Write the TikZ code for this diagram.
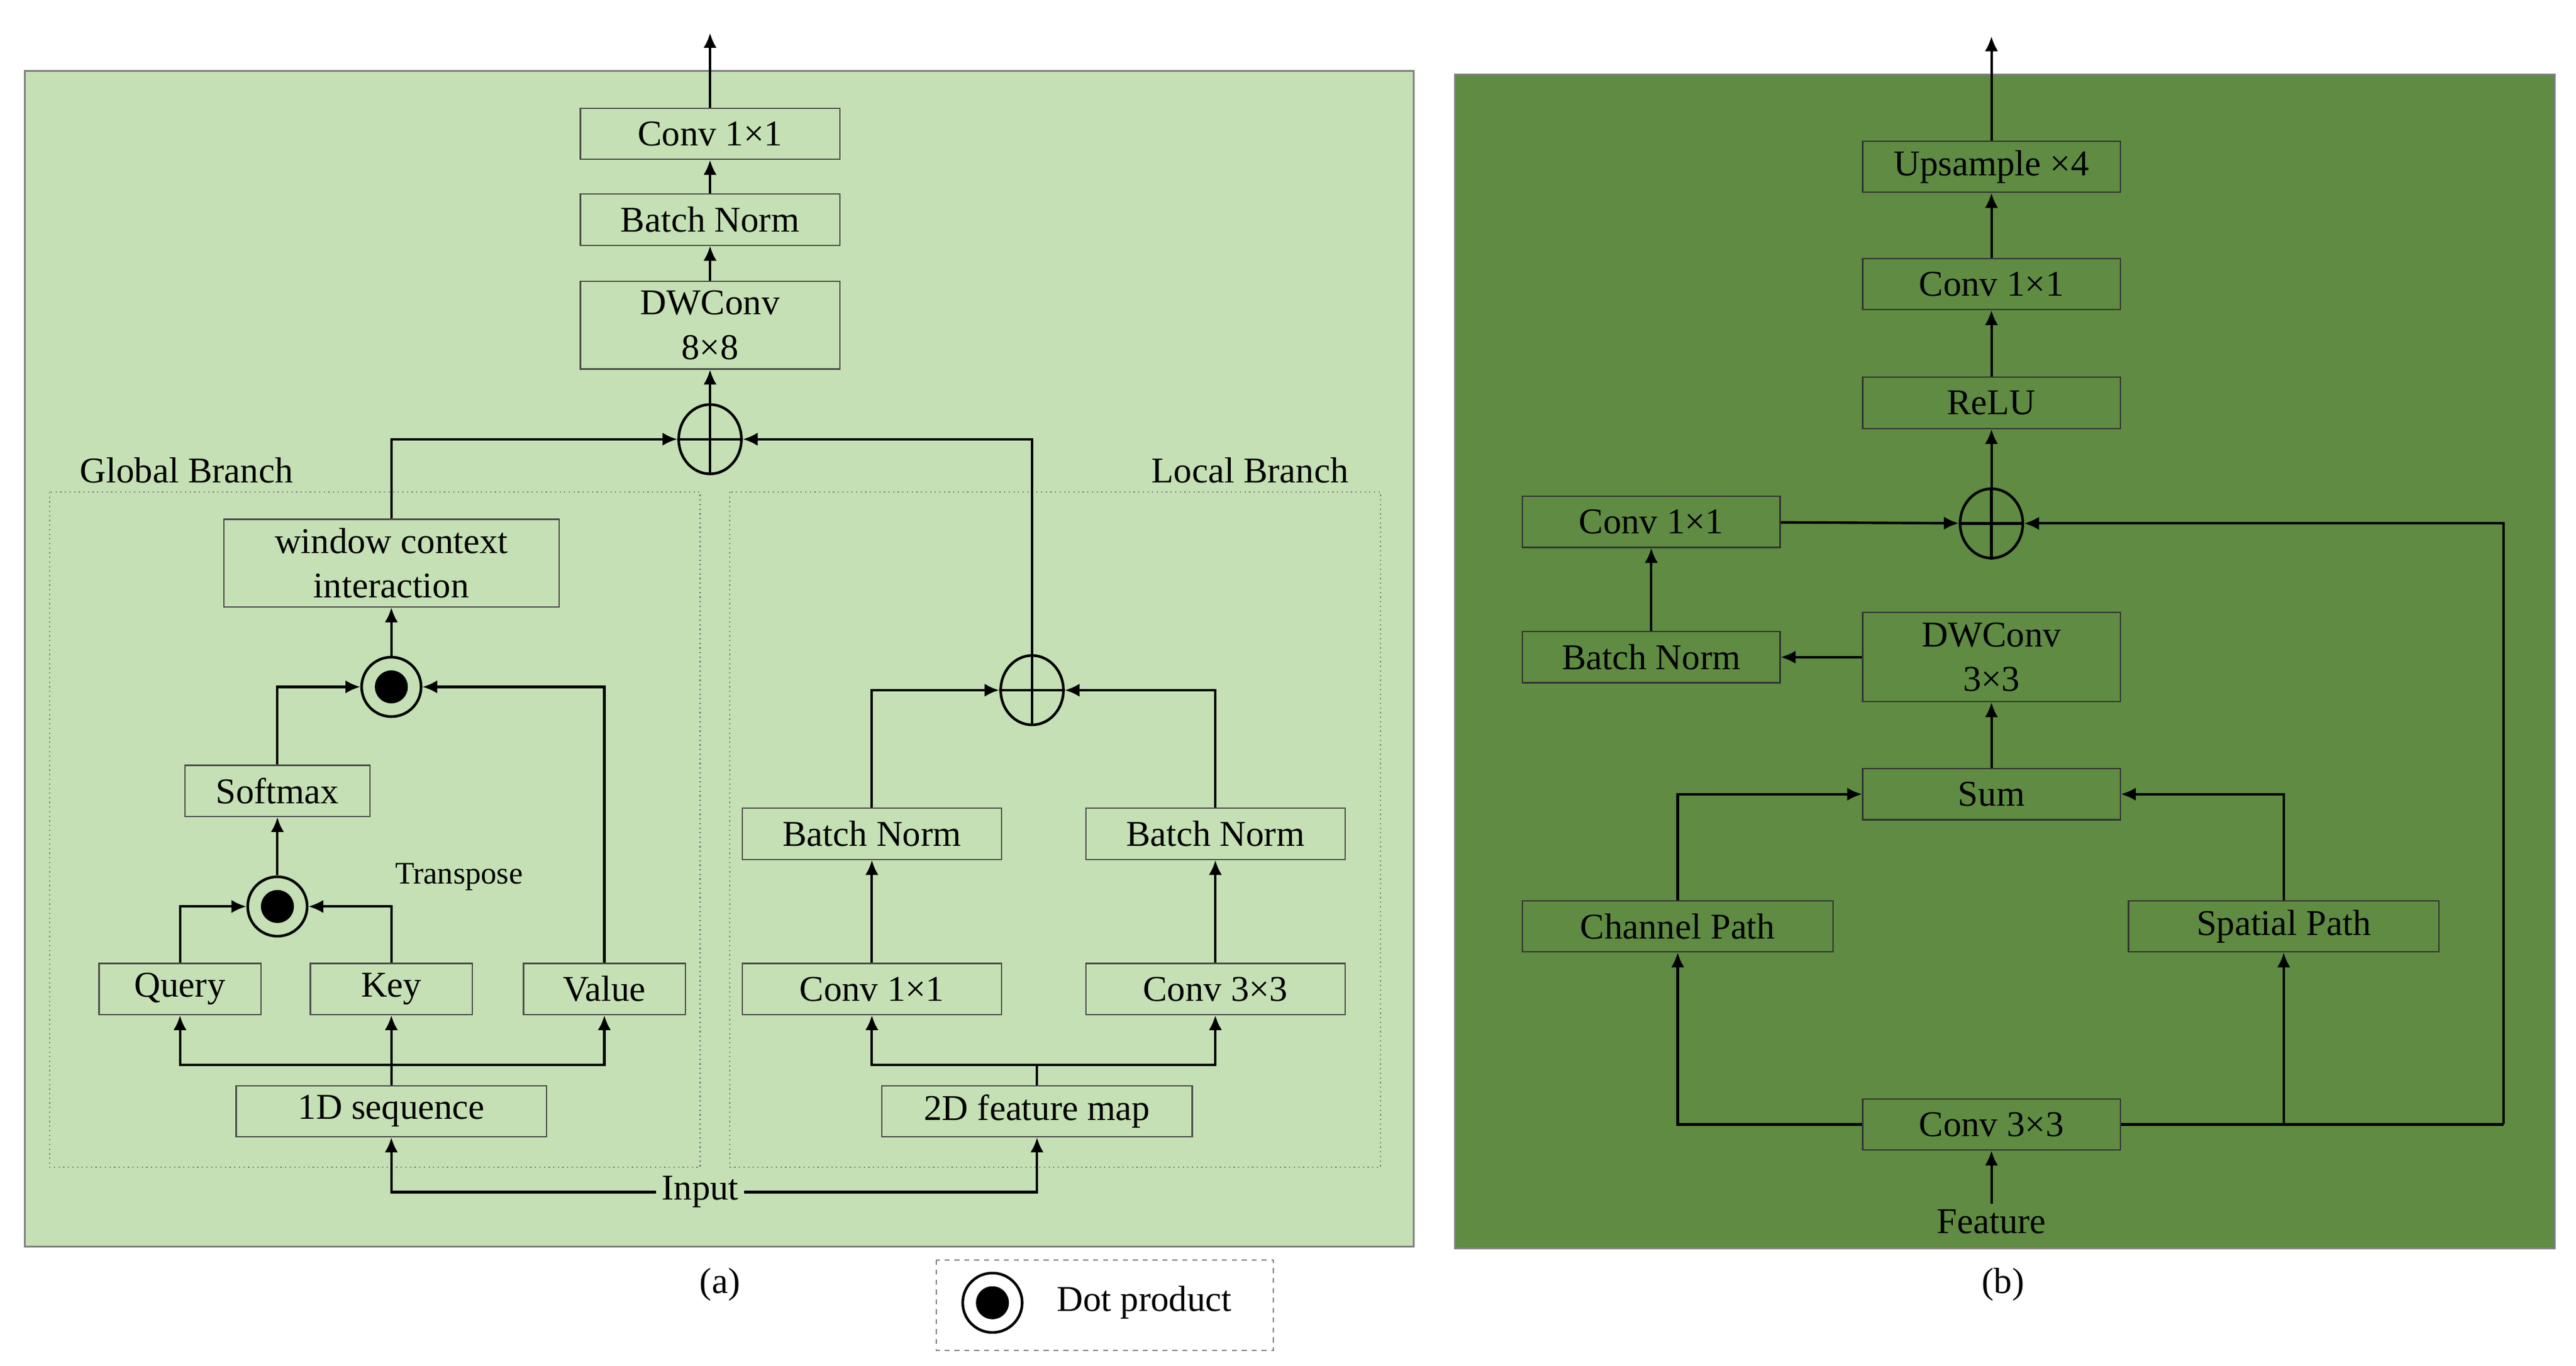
\documentclass[tikz,border=0pt]{standalone}
\usepackage{fontspec}
\setmainfont{Liberation Serif}
\usetikzlibrary{arrows.meta,shapes.geometric}
\definecolor{lg}{HTML}{C5E0B4}
\definecolor{dg}{HTML}{5F8B42}
\begin{document}
\begin{tikzpicture}[x=1pt,y=-1pt,
  every node/.style={font=\fontsize{22}{27}\selectfont},
  box/.style={draw=black!70,line width=0.8pt,minimum height=31pt,inner sep=0pt,align=center},
  plus/.style={ellipse,draw,line width=1.6pt,minimum width=38pt,minimum height=42pt,inner sep=0pt},
  dotp/.style={circle,draw,line width=1.6pt,minimum size=36pt,inner sep=0pt},
  ar/.style={line width=1.5pt,-{Latex[length=9pt,width=8pt]}},
  ln/.style={line width=1.5pt}]
\useasboundingbox (0,0) rectangle (1560,827);
\fill[white] (0,0) rectangle (1560,827);
% panels
\draw[fill=lg,draw=gray,line width=1pt] (15,43) rectangle (856,755);
\draw[fill=dg,draw=gray,line width=1pt] (881,45) rectangle (1547,756);
\draw[gray,dotted,line width=0.8pt] (30,298) rectangle (424,707);
\draw[gray,dotted,line width=0.8pt] (442,298) rectangle (836,707);
\node (gb) at (113,285) {Global Branch};
\node (lb) at (757,285) {Local Branch};
% left top
\node[box,minimum width=157pt] (c1) at (430,81) {Conv 1×1};
\node[box,minimum width=157pt] (bn) at (430,133) {Batch Norm};
\node[box,minimum width=157pt,minimum height=53pt] (dw) at (430,197) {DWConv\\8×8};
\node[plus] (p1) at (430,266) {};
\draw[line width=1.6pt] (p1.north)--(p1.south) (p1.west)--(p1.east);
\coordinate (top1) at (430,20);
\draw[ar] (c1)--(top1);
\draw[ar] (bn)--(c1);
\draw[ar] (dw)--(bn);
\draw[ar] (p1)--(dw);
% global
\node[box,minimum width=203pt,minimum height=53pt] (wc) at (237,341) {window context\\interaction};
\node[dotp] (d1) at (237,416) {};
\fill (d1) circle (10pt);
\node[box,minimum width=112pt] (sm) at (168,479) {Softmax};
\node[dotp] (d2) at (168,549) {};
\fill (d2) circle (10pt);
\node (tr) at (278,531) {\fontsize{19}{22}\selectfont Transpose};
\node[box,minimum width=98pt] (q) at (109,599) {Query};
\node[box,minimum width=98pt] (k) at (237,599) {Key};
\node[box,minimum width=98pt] (v) at (366,599) {Value};
\node[box,minimum width=188pt] (s1) at (237,673) {1D sequence};
\node (in) at (424,722) {Input};
\node[box,minimum width=188pt] (s2) at (628,673) {2D feature map};
\node[box,minimum width=157pt] (lc1) at (528,599) {Conv 1×1};
\node[box,minimum width=157pt] (lc3) at (736,599) {Conv 3×3};
\node[box,minimum width=157pt] (lb1) at (528,505) {Batch Norm};
\node[box,minimum width=157pt] (lb2) at (736,505) {Batch Norm};
\node[plus] (p2) at (625,418) {};
\draw[line width=1.6pt] (p2.north)--(p2.south) (p2.west)--(p2.east);
% global connectors
\draw[ar] (wc.north) |- (p1.west);
\draw[ar] (p2.north) |- (p1.east);
\draw[ar] (d1)--(wc);
\draw[ar] (sm.north) |- (d1.west);
\draw[ar] (v.north) |- (d1.east);
\draw[ar] (d2)--(sm);
\draw[ar] (q.north) |- (d2.west);
\draw[ar] (k.north) |- (d2.east);
\coordinate (j1) at (237,645);
\draw[ln] (s1.north)--(j1);
\draw[ar] (j1) -| (q.south);
\draw[ar] (j1) -| (v.south);
\draw[ar] (j1) -- (k.south);
\draw[ar] (in.west) -| (s1.south);
\draw[ar] (in.east) -| (s2.south);
\coordinate (j2) at (628,645);
\draw[ln] (s2.north)--(j2);
\draw[ar] (j2) -| (lc1.south);
\draw[ar] (j2) -| (lc3.south);
\draw[ar] (lc1)--(lb1);
\draw[ar] (lc3)--(lb2);
\draw[ar] (lb1.north) |- (p2.west);
\draw[ar] (lb2.north) |- (p2.east);
% right panel
\node[box,draw=black!80,minimum width=156pt] (up) at (1206,101) {Upsample ×4};
\node[box,draw=black!80,minimum width=156pt] (rc1) at (1206,172) {Conv 1×1};
\node[box,draw=black!80,minimum width=156pt] (relu) at (1206,244) {ReLU};
\node[plus] (p3) at (1206,317) {};
\draw[line width=1.6pt] (p3.north)--(p3.south) (p3.west)--(p3.east);
\node[box,draw=black!80,minimum width=156pt] (rc2) at (1000,316) {Conv 1×1};
\node[box,draw=black!80,minimum width=156pt] (rbn) at (1000,398) {Batch Norm};
\node[box,draw=black!80,minimum width=156pt,minimum height=54pt] (rdw) at (1206,398) {DWConv\\3×3};
\node[box,draw=black!80,minimum width=156pt] (sum) at (1206,481) {Sum};
\node[box,draw=black!80,minimum width=188pt] (cp) at (1016,561) {Channel Path};
\node[box,draw=black!80,minimum width=188pt] (sp) at (1383,561) {Spatial Path};
\node[box,draw=black!80,minimum width=156pt] (rc3) at (1206,681) {Conv 3×3};
\node (feat) at (1206,740) {Feature};
\coordinate (top2) at (1206,22);
\coordinate (jr) at (1383,681);
\coordinate (jr2) at (1516,681);
\draw[ar] (feat)--(rc3);
\draw[ar] (rc3.west) -| (cp.south);
\draw[ln] (rc3.east)--(jr);
\draw[ar] (jr)--(sp.south);
\draw[ln] (jr)--(jr2);
\draw[ar] (jr2) |- (p3.east);
\draw[ar] (cp.north) |- (sum.west);
\draw[ar] (sp.north) |- (sum.east);
\draw[ar] (sum)--(rdw);
\draw[ar] (rdw)--(rbn);
\draw[ar] (rbn)--(rc2);
\draw[ar] (rc2)--(p3);
\draw[ar] (p3)--(relu);
\draw[ar] (relu)--(rc1);
\draw[ar] (rc1)--(up);
\draw[ar] (up)--(top2);
% captions and legend
\node (ca) at (436,778) {(a)};
\node (cb) at (1213,778) {(b)};
\draw[gray,dashed,line width=0.8pt] (567,763) rectangle (771,818);
\node[dotp] (d3) at (601,789) {};
\fill (d3) circle (10pt);
\node (dl) at (693,789) {Dot product};
\end{tikzpicture}
\end{document}
